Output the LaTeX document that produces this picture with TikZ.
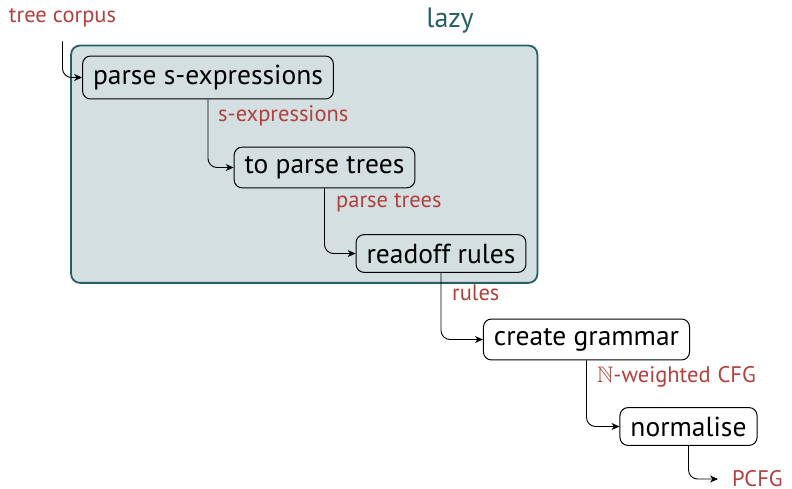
\documentclass[tikz,border=0pt]{standalone}
\usepackage{amssymb}
\usepackage{fontspec}
\setmainfont{PT Sans}
\usetikzlibrary{arrows.meta,fit,backgrounds}
\definecolor{lblred}{RGB}{178,64,60}
\definecolor{lazyteal}{RGB}{38,96,98}
\definecolor{lazyfill}{RGB}{211,223,224}
\tikzset{
  stepbox/.style={draw=black, line width=1pt, rounded corners=8pt, fill=white,
    font=\fontsize{27.5}{30}\selectfont, inner xsep=10.5pt, inner ysep=9pt},
  lazybox/.style={stepbox, fill=lazyfill},
  flowlbl/.style={text=lblred, font=\fontsize{22.5}{26}\selectfont, inner sep=0pt},
  flow/.style={draw=black, line width=0.9pt, rounded corners=9pt,
    -{Stealth[length=8pt,width=7pt,inset=2.5pt]}},
}
\begin{document}
\begin{tikzpicture}[x=1pt,y=-1pt]
  \useasboundingbox (0,0) rectangle (792,489);

  % pipeline steps
  \node[lazybox] (parse) at (208,77.5) {parse s-expressions};
  \node[lazybox] (trees) at (324.5,167.5) {to parse trees};
  \node[lazybox] (rules) at (441,253.5) {readoff rules};
  \node[stepbox] (grammar) at (586.5,339.5) {create grammar};
  \node[stepbox] (norm) at (688.5,426.5) {normalise};

  % input and output
  \node[flowlbl, inner ysep=2pt] (corpus) at (62.5,18) {tree corpus};
  \node[flowlbl, anchor=west] (pcfg) at (732,479) {PCFG};
  \coordinate (corpusfoot) at ([yshift=-12pt]corpus.south);

  % lazily evaluated group
  \begin{scope}[on background layer]
    \node[draw=lazyteal, line width=1.8pt, fill=lazyfill, rounded corners=9pt,
      inner xsep=11pt, inner ysep=10pt, fit=(parse)(trees)(rules)] (lazy) {};
  \end{scope}
  \node[text=lazyteal, font=\fontsize{28}{32}\selectfont]
    (lazylbl) at (450,21) {lazy};

  % data flow
  \draw[flow] (corpusfoot) |- (parse.west);
  \draw[flow] (parse.south) |- (trees.west);
  \draw[flow] (trees.south) |- (rules.west);
  \draw[flow] (rules.south) |- (grammar.west);
  \draw[flow] (grammar.south) |- (norm.west);
  \draw[flow] (norm.south) |- ([xshift=-14pt]pcfg.west);

  % intermediate data labels
  \node[flowlbl, anchor=west] (l1) at (218,116) {s-expressions};
  \node[flowlbl, anchor=west] (l2) at (336,203) {parse trees};
  \node[flowlbl, anchor=west] (l3) at (452,293) {rules};
  \node[flowlbl, anchor=west] (l4) at (597,377) {$\mathbb{N}$-weighted\kern1pt\ CFG};
\end{tikzpicture}
\end{document}
